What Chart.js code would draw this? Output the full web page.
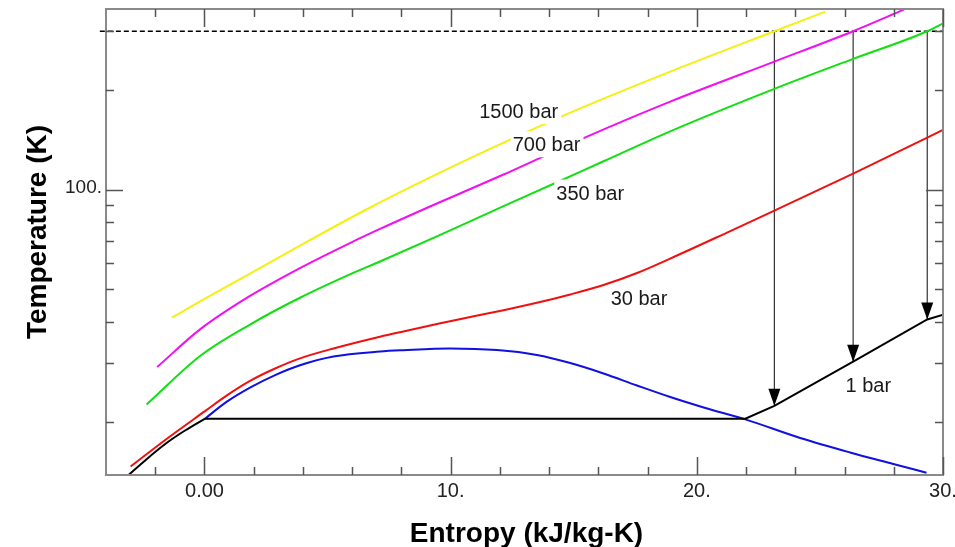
<!DOCTYPE html>
<html>
<head>
<meta charset="utf-8">
<title>Hydrogen T-s diagram</title>
<script src="https://cdn.jsdelivr.net/npm/chart.js@4.4.1/dist/chart.umd.min.js"></script>
<style>
  html, body { margin: 0; padding: 0; background: #fff; }
  canvas { display: block; }
</style>
</head>
<body>
<canvas id="tsChart" width="955" height="547"></canvas>
<script>
// entropy (kJ/kg-K) / temperature (K) pairs along each isobar
const s1500 = [-1.33, -0.18, 1.85, 3.88, 6.73, 9.44, 12.15, 14.86, 18.92, 23.15, 25.22];
const t1500 = [41.1, 46.0, 55.8, 67.8, 88.3, 111.3, 138.5, 170.6, 226.7, 300, 343.7];

const s700 = [-1.92, -0.18, 1.85, 3.88, 5.91, 7.13, 9.44, 12.15, 15.54, 18.92, 23.15, 26.35, 28.41];
const t700 = [29.2, 37.9, 47.8, 58.0, 69.0, 76.1, 90.8, 111.0, 144.4, 184.1, 243.0, 300, 348.4];

const s350 = [-2.35, -0.18, 1.85, 3.88, 5.91, 7.13, 9.44, 12.15, 14.32, 16.21, 18.92, 23.15, 26.35, 29.36, 30.03];
const t350 = [22.5, 31.5, 39.2, 47.2, 55.5, 60.7, 72.3, 89.1, 105.2, 121.7, 149.8, 201.1, 247.6, 300, 317.7];

const s30 = [-3.0, -1.54, 0.02, 0.91, 1.85, 2.87, 3.88, 5.24, 7.13, 8.08, 9.44, 10.79, 12.15, 13.5, 14.86, 16.21, 17.57, 18.92, 21.23, 23.15, 26.35, 29.36, 30.03];
const t30 = [14.64, 17.72, 21.49, 23.98, 26.52, 28.9, 31.0, 33.2, 36.02, 37.37, 39.33, 41.28, 43.3, 45.57, 48.3, 51.55, 56.03, 61.95, 74.2, 86.4, 111.7, 143.4, 151.6];

// 1 bar: compressed liquid up to boiling at 20.4 K ...
const s1Liquid = [-3.06, -2.34, -1.54, -0.79, 0.02];
const t1Liquid = [13.85, 15.43, 17.23, 18.79, 20.4];
// ... then the two-phase plateau and superheated vapour
const s1Vapour = [0.02, 21.97, 23.15, 26.35, 29.36, 30.03];
const t1Vapour = [20.4, 20.4, 22.3, 30.3, 40.6, 42.0];

// saturation dome
const sSat = [0.02, 0.91, 1.85, 2.87, 3.88, 5.24, 7.13, 8.08, 9.98, 11.88, 13.5, 14.86, 16.21, 17.57, 18.92, 20.28, 21.97, 24.2, 26.22, 27.98, 29.33];
const tSat = [20.4, 22.95, 25.3, 27.6, 29.55, 31.4, 32.5, 32.8, 33.19, 32.83, 31.73, 30.0, 27.91, 25.68, 23.71, 22.05, 20.3, 17.84, 16.14, 14.9, 14.02];

// room temperature line and isentropic expansions down to 1 bar
const roomT = 300;
const arrowS = [23.15, 26.35, 29.36];
const arrowEndT = [22.3, 30.3, 40.6];

const xMajorTicks = [0, 10, 20, 30];
const xMajorLabels = ["0.00", "10.", "20.", "30."];
const xMinorTicks = [-2, 2, 4, 6, 8, 12, 14, 16, 18, 22, 24, 26, 28];
const yMajorTicks = [100];
const yMajorLabels = ["100."];
const yMinorTicks = [20, 30, 40, 50, 60, 70, 80, 90, 200, 300];

const curveLabels = ["1500 bar", "700 bar", "350 bar", "30 bar", "1 bar"];
const curveLabelS = [11.16, 12.52, 14.29, 16.50, 26.04];
const curveLabelT = [164.4, 130.4, 93.3, 45.0, 24.5];

const FONT = "'Liberation Sans', Arial, Helvetica, sans-serif";

function pts(sArr, tArr) {
  return sArr.map((s, i) => ({ x: s, y: tArr[i] }));
}

function curve(sArr, tArr, color, extra) {
  return Object.assign({
    data: pts(sArr, tArr),
    borderColor: color,
    borderWidth: 2,
    pointRadius: 0,
    fill: false,
    showLine: true,
    cubicInterpolationMode: "monotone"
  }, extra || {});
}

// arrow heads, isobar labels, frame, ticks and axis titles
const decorations = {
  id: "decorations",
  afterDatasetsDraw(chart) {
    const { ctx, chartArea: a, scales: { x, y } } = chart;
    ctx.save();

    ctx.fillStyle = "#000";
    arrowS.forEach((s, i) => {
      const px = x.getPixelForValue(s);
      const py = y.getPixelForValue(arrowEndT[i]);
      ctx.beginPath();
      ctx.moveTo(px, py);
      ctx.lineTo(px - 6, py - 17);
      ctx.lineTo(px + 6, py - 17);
      ctx.closePath();
      ctx.fill();
    });

    ctx.font = "20px " + FONT;
    ctx.textAlign = "left";
    ctx.textBaseline = "alphabetic";
    curveLabels.forEach((txt, i) => {
      const px = x.getPixelForValue(curveLabelS[i]);
      const py = y.getPixelForValue(curveLabelT[i]);
      const w = ctx.measureText(txt).width;
      ctx.fillStyle = "#fff";
      ctx.fillRect(px - 2, py - 20, w + 5, 26);
      ctx.fillStyle = "#1a1a1a";
      ctx.fillText(txt, px, py);
    });

    // frame
    ctx.strokeStyle = "#8a8a8a";
    ctx.lineWidth = 2;
    ctx.strokeRect(a.left, a.top, a.right - a.left, a.bottom - a.top);

    // inward tick marks on all four sides
    ctx.strokeStyle = "#555";
    ctx.lineWidth = 1.5;
    ctx.beginPath();
    const xTick = (s, len) => {
      const px = Math.round(x.getPixelForValue(s)) + 0.5;
      ctx.moveTo(px, a.bottom); ctx.lineTo(px, a.bottom - len);
      ctx.moveTo(px, a.top); ctx.lineTo(px, a.top + len);
    };
    const yTick = (t, len) => {
      const py = Math.round(y.getPixelForValue(t)) + 0.5;
      ctx.moveTo(a.left, py); ctx.lineTo(a.left + len, py);
      ctx.moveTo(a.right, py); ctx.lineTo(a.right - len, py);
    };
    xMajorTicks.forEach(s => xTick(s, 18));
    xMinorTicks.forEach(s => xTick(s, 8));
    yMajorTicks.forEach(t => yTick(t, 17));
    yMinorTicks.forEach(t => yTick(t, 8));
    ctx.stroke();

    // tick labels
    ctx.fillStyle = "#222";
    ctx.font = "20px " + FONT;
    ctx.textAlign = "center";
    ctx.textBaseline = "alphabetic";
    xMajorTicks.forEach((s, i) => {
      ctx.fillText(xMajorLabels[i], x.getPixelForValue(s), a.bottom + 22);
    });
    ctx.font = "19px " + FONT;
    ctx.textAlign = "right";
    ctx.textBaseline = "middle";
    yMajorTicks.forEach((t, i) => {
      ctx.fillText(yMajorLabels[i], a.left - 4, y.getPixelForValue(t) - 2);
    });

    // axis titles
    ctx.fillStyle = "#000";
    ctx.font = "bold 28px " + FONT;
    ctx.textAlign = "center";
    ctx.textBaseline = "alphabetic";
    ctx.fillText("Entropy (kJ/kg-K)", (a.left + a.right) / 2 + 2, a.bottom + 67);
    ctx.save();
    ctx.translate(46, (a.top + a.bottom) / 2 - 10);
    ctx.rotate(-Math.PI / 2);
    ctx.fillText("Temperature (K)", 0, 0);
    ctx.restore();

    ctx.restore();
  }
};

document.addEventListener("DOMContentLoaded", () => {
  const ctx = document.getElementById("tsChart").getContext("2d");

  const arrowSets = arrowS.map((s, i) => ({
    data: [{ x: s, y: roomT }, { x: s, y: arrowEndT[i] }],
    borderColor: "#333",
    borderWidth: 1.2,
    pointRadius: 0,
    showLine: true
  }));

  new Chart(ctx, {
    type: "scatter",
    data: {
      datasets: [
        curve(s1Liquid, t1Liquid, "#000000"),
        curve(s1Vapour, t1Vapour, "#000000", { cubicInterpolationMode: "default", tension: 0 }),
        curve(sSat, tSat, "#1010e0"),
        curve(s30, t30, "#f01010"),
        curve(s350, t350, "#10e010"),
        curve(s700, t700, "#f010f0"),
        curve(s1500, t1500, "#f4f010"),
        {
          // dashed room-temperature line pokes slightly past the left frame
          data: [{ x: -4.25, y: roomT }, { x: 30, y: roomT }],
          borderColor: "#000",
          borderWidth: 1.5,
          borderDash: [5, 3],
          pointRadius: 0,
          showLine: true,
          clip: { left: 8, top: 0, right: 0, bottom: 0 }
        },
        ...arrowSets
      ]
    },
    options: {
      responsive: false,
      animation: false,
      layout: { padding: { left: 106, top: 9, right: 12, bottom: 72 } },
      plugins: {
        legend: { display: false },
        tooltip: { enabled: false }
      },
      scales: {
        x: { type: "linear", min: -4, max: 30, display: false },
        y: { type: "logarithmic", min: 13.8, max: 350, display: false }
      }
    },
    plugins: [decorations]
  });
});
</script>
</body>
</html>
